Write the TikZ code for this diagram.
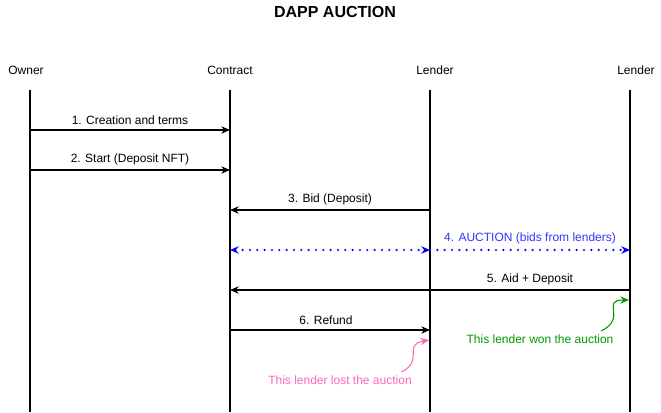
\documentclass[tikz,border=0pt]{standalone}
\usepackage{fontspec}
\setmainfont{Liberation Sans}
\usepackage{xcolor}
\usetikzlibrary{arrows.meta, positioning, calc}

\definecolor{lostpink}{HTML}{FF66B3}
\definecolor{wongreen}{HTML}{009900}
\definecolor{auctblue}{HTML}{0000FF}

\begin{document}
\begin{tikzpicture}[x=0.75pt, y=-0.75pt, >={Stealth[length=6.5pt,width=5.5pt]},
    actor/.style={font=\fontsize{9}{11}\selectfont, inner sep=1pt},
    lifeline/.style={draw=black, line width=0.8pt},
    msg/.style={->, line width=0.8pt},
    lbl/.style={font=\fontsize{9}{11}\selectfont, above=2.5pt, inner sep=1pt},
    bids/.style={auctblue, line width=1.8pt, line cap=round, dash pattern=on 0pt off 5.5pt},
    note/.style={font=\fontsize{9}{11}\selectfont, inner sep=1pt}]

    \useasboundingbox (0,0) rectangle (661,412);

    \node [font=\bfseries\fontsize{12}{14}\selectfont] (title) at (335,12) {DAPP AUCTION};

    % actors
    \node [actor] (owner) at (26,70) {Owner};
    \node [actor] (contract) at (230,70) {Contract};
    \node [actor] (lender) at (435,70) {Lender};
    \node [actor] (winner) at (636,70) {Lender};

    % lifelines and their message points
    \foreach \n/\x in {own/30, con/230, lnd/430, win/630} {
        \coordinate (\n-top) at (\x,90);
        \coordinate (\n-bot) at (\x,412);
        \foreach \k in {1,...,6}
            \coordinate (\n-\k) at (\x,{90+40*\k});
        \draw [lifeline] (\n-top) -- (\n-bot);
    }

    % messages
    \draw [msg] (own-1) -- node[lbl] {1. Creation and terms} (con-1);
    \draw [msg] (own-2) -- node[lbl] {2. Start (Deposit NFT)} (con-2);
    \draw [msg] (lnd-3) -- node[lbl] {3. Bid (Deposit)} (con-3);
    \draw [<->, bids] (con-4) -- (lnd-4);
    \draw [->, bids] (lnd-4) -- node[lbl, text=auctblue!80!white] {4. AUCTION (bids from lenders)} (win-4);
    \draw [msg] (win-5) -- node[lbl, pos=0.25] {5. Aid + Deposit} (con-5);
    \draw [msg] (con-6) -- node[lbl, pos=0.48] {6. Refund} (lnd-6);

    % notes
    \node [note, text=lostpink] (lost) at (340,380) {This lender lost the auction};
    \node [note, text=wongreen] (won) at (540,339) {This lender won the auction};
    \coordinate (lost-tip) at (429,340);
    \coordinate (won-tip) at (629,300);
    \draw [->, lostpink, line width=0.8pt] (lost.north east) ++(-12,-2) .. controls (425,360) and (402,345) .. (lost-tip);
    \draw [->, wongreen, line width=0.8pt] (won.north east) ++(-14,-2) .. controls (628,318) and (600,300) .. (won-tip);
\end{tikzpicture}
\end{document}
